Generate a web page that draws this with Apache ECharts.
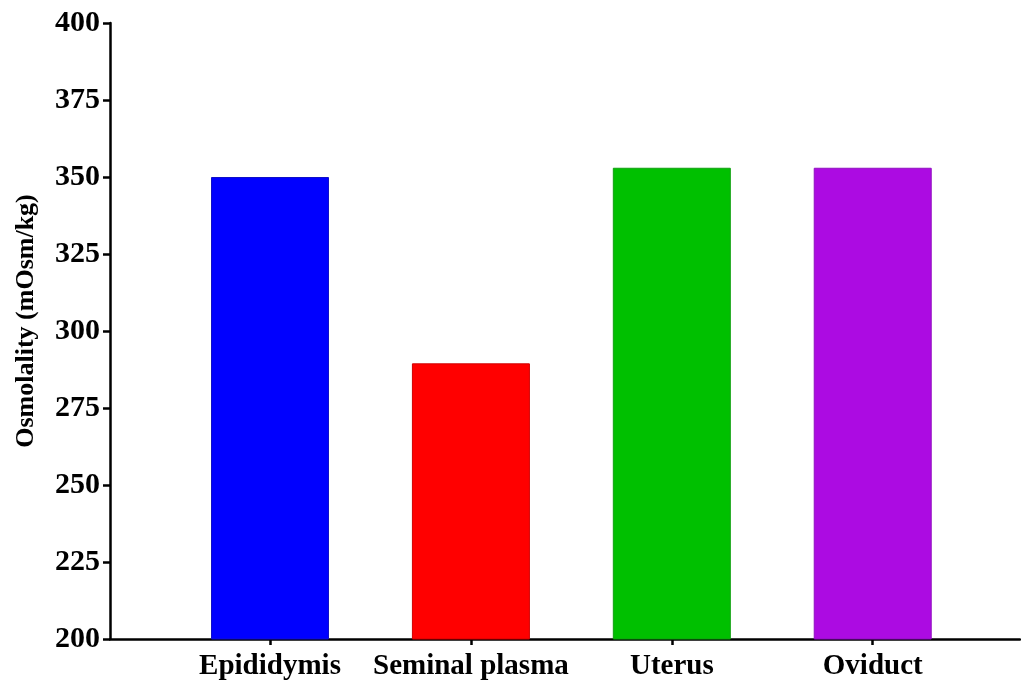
<!DOCTYPE html>
<html>
<head>
<meta charset="utf-8">
<script src="https://cdn.jsdelivr.net/npm/echarts@6/dist/echarts.min.js"></script>
<style>
  html, body { margin: 0; padding: 0; background: #fff; }
  #chart { width: 1021px; height: 685px; }
</style>
</head>
<body>
<div id="chart"></div>
<script>
// Osmolality of reproductive tract fluids
const categories = ['Epididymis', 'Seminal plasma', 'Uterus', 'Oviduct'];
const osmolality = [350, 289.5, 353, 353];
const barColors = ['#0000FF', '#FF0000', '#00C000', '#AC0BE2'];
const barEdges = ['#1010C8', '#D00000', '#10A010', '#9010C0'];
const yTicks = [200, 225, 250, 275, 300, 325, 350, 375, 400];

const font = '"Liberation Serif", "Times New Roman", serif';

// bars sit at x = 1..4 on a numeric axis so the axis line can run past the bars
const barData = categories.map((c, i) => ({
  value: [i + 1, osmolality[i]],
  itemStyle: { color: barColors[i], borderColor: barEdges[i], borderWidth: 1 }
}));

const chart = echarts.init(document.getElementById('chart'), null, { renderer: 'canvas' });
chart.setOption({
  animation: false,
  backgroundColor: '#ffffff',
  grid: { left: 110, right: 1, top: 23, bottom: 46, containLabel: false },
  xAxis: {
    type: 'value',
    min: 0.2036,
    max: 4.733,
    splitLine: { show: false },
    axisLine: { show: true, lineStyle: { color: '#000', width: 2.5 } },
    axisTick: { show: true, customValues: [1, 2, 3, 4], length: 6, lineStyle: { color: '#000', width: 2.5 } },
    axisLabel: {
      customValues: [1, 2, 3, 4],
      formatter: v => categories[Math.round(v) - 1] || '',
      color: '#000', fontFamily: font, fontWeight: 'bold', fontSize: 29, margin: 13
    }
  },
  yAxis: {
    type: 'value',
    min: yTicks[0],
    max: yTicks[yTicks.length - 1],
    interval: 25,
    name: 'Osmolality (mOsm/kg)',
    nameLocation: 'middle',
    nameGap: 71,
    nameTextStyle: { color: '#000', fontFamily: font, fontWeight: 'bold', fontSize: 26, padding: [0, 0, 0, 20] },
    splitLine: { show: false },
    axisLine: { show: true, lineStyle: { color: '#000', width: 2.5 } },
    axisTick: { show: true, length: 7, lineStyle: { color: '#000', width: 2.5 } },
    axisLabel: { color: '#000', fontFamily: font, fontWeight: 'bold', fontSize: 30, margin: 10 }
  },
  series: [{
    type: 'bar',
    barWidth: 118,
    data: barData
  }]
});
</script>
</body>
</html>
